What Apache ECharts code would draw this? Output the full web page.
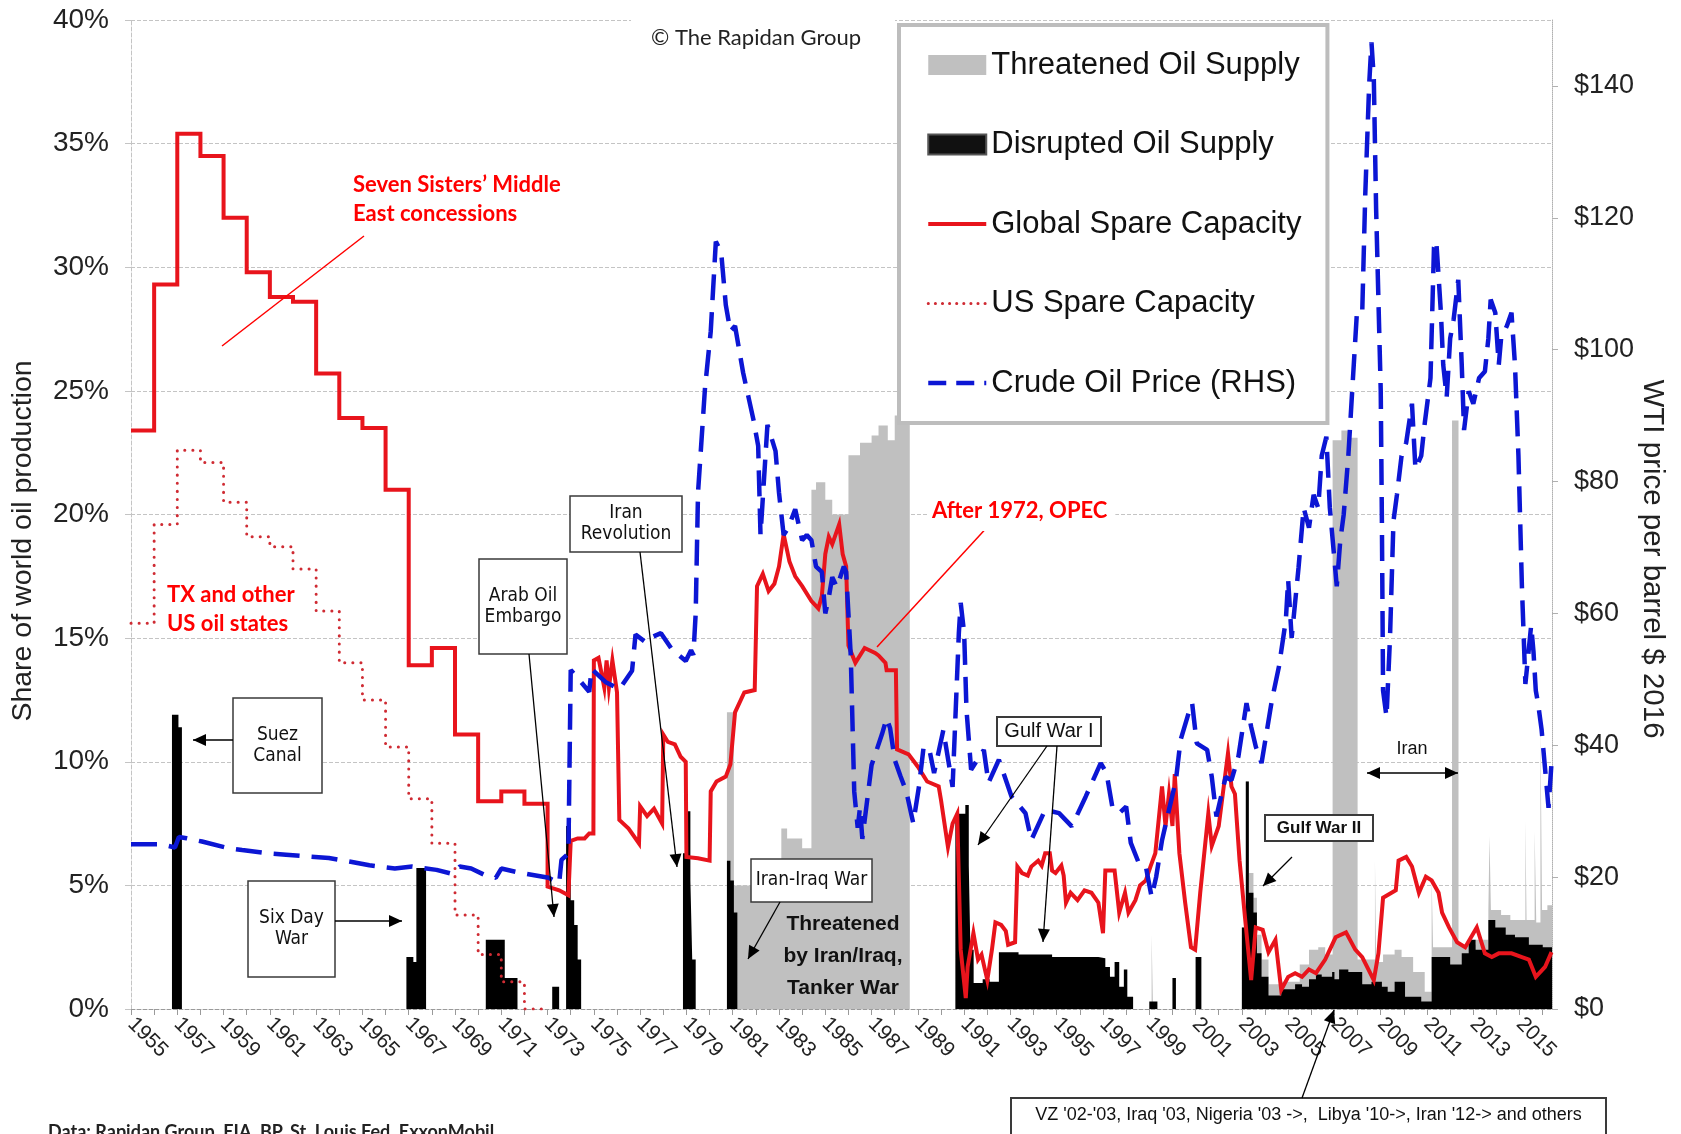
<!DOCTYPE html>
<html>
<head>
<meta charset="utf-8">
<title>Spare capacity, supply disruptions and oil price</title>
<script src="https://fastly.jsdelivr.net/npm/echarts@6/dist/echarts.min.js"></script>
<style>
  html, body { margin: 0; padding: 0; background: #fff; }
  #chart-container { width: 1681px; height: 1134px; }
</style>
</head>
<body>
<div id="chart-container"></div>
<script type="text/javascript">
  // annual values (step lines) 1955-1972
  var stepYears = [1955, 1956, 1957, 1958, 1959, 1960, 1961, 1962, 1963, 1964, 1965, 1966, 1967, 1968, 1969, 1970, 1971, 1972];
  var globalSpareAnnual = [23.4, 29.3, 35.4, 34.5, 32.0, 29.8, 28.8, 28.6, 25.7, 23.9, 23.5, 21.0, 13.9, 14.6, 11.1, 8.4, 8.8, 8.3];
  var usSpareAnnual = [15.6, 19.6, 22.6, 22.1, 20.5, 19.1, 18.7, 17.8, 16.1, 14.0, 12.5, 10.6, 8.5, 6.7, 3.8, 2.2, 1.1, 0.0];

  // global spare capacity after 1973, % of world production
  var globalSpareMonthly = [
    [1973.0, 4.95], [1973.5, 4.8], [1973.9, 4.6], [1974.0, 6.8], [1974.3, 6.9], [1974.6, 6.9], [1974.8, 7.1], [1974.98, 7.1],
    [1975.0, 14.1], [1975.2, 14.2], [1975.45, 13.0], [1975.55, 14.1], [1975.65, 13.0], [1975.8, 14.1], [1976.0, 12.8], [1976.1, 7.65],
    [1976.5, 7.3], [1976.95, 6.7], [1977.0, 8.2], [1977.3, 7.8], [1977.6, 8.1], [1977.95, 7.5], [1978.0, 11.1], [1978.2, 10.8],
    [1978.5, 10.7], [1978.75, 10.2], [1978.97, 10.0], [1979.0, 6.15], [1979.5, 6.1], [1980.0, 6.0], [1980.05, 8.8], [1980.3, 9.2],
    [1980.7, 9.4], [1980.9, 9.9], [1981.1, 12.0], [1981.5, 12.8], [1981.95, 12.9], [1982.05, 17.1], [1982.3, 17.6], [1982.55, 16.9],
    [1982.8, 17.2], [1983.0, 17.9], [1983.2, 19.2], [1983.45, 18.1], [1983.7, 17.5], [1984.0, 17.1], [1984.4, 16.5], [1984.7, 16.2],
    [1984.85, 16.7], [1985.0, 18.4], [1985.15, 19.1], [1985.3, 18.8], [1985.6, 19.6], [1985.75, 18.4], [1985.9, 17.9], [1986.0, 14.7],
    [1986.3, 14.0], [1986.7, 14.6], [1987.15, 14.4], [1987.3, 14.3], [1987.6, 14.0], [1987.65, 13.7], [1988.05, 13.7], [1988.1, 10.5],
    [1988.6, 10.3], [1989.0, 9.8], [1989.4, 9.2], [1989.9, 9.0], [1990.0, 8.45], [1990.3, 6.55], [1990.5, 7.5], [1990.7, 7.9],
    [1990.85, 2.4], [1991.07, 0.44], [1991.15, 1.7], [1991.4, 3.07], [1991.6, 2.0], [1991.75, 2.2], [1992.0, 1.17], [1992.2, 2.4],
    [1992.35, 3.5], [1992.6, 3.4], [1992.8, 3.15], [1992.9, 2.6], [1993.2, 2.7], [1993.3, 5.76], [1993.5, 5.5], [1993.75, 5.4],
    [1993.9, 5.76], [1994.2, 6.0], [1994.35, 5.8], [1994.5, 6.3], [1994.7, 6.3], [1994.8, 5.6], [1994.95, 5.5], [1995.2, 5.8],
    [1995.3, 5.4], [1995.4, 4.3], [1995.6, 4.7], [1995.9, 4.4], [1996.2, 4.8], [1996.5, 4.7], [1996.8, 4.3], [1997.0, 3.07],
    [1997.1, 5.6], [1997.5, 5.6], [1997.7, 3.9], [1997.95, 4.7], [1998.1, 3.9], [1998.4, 4.4], [1998.6, 5.0], [1998.85, 5.2],
    [1999.05, 5.76], [1999.26, 6.3], [1999.55, 9.0], [1999.7, 7.4], [1999.85, 8.7], [2000.0, 7.4], [2000.1, 9.5], [2000.3, 6.3],
    [2000.55, 4.3], [2000.8, 2.5], [2000.98, 2.4], [2001.2, 4.7], [2001.55, 7.9], [2001.7, 6.6], [2002.0, 7.4], [2002.4, 10.35],
    [2002.55, 9.0], [2002.7, 8.7], [2002.9, 6.0], [2003.2, 3.07], [2003.4, 1.17], [2003.6, 3.3], [2003.9, 3.2], [2004.15, 2.3],
    [2004.45, 2.8], [2004.7, 0.77], [2005.0, 1.3], [2005.3, 1.45], [2005.6, 1.3], [2005.9, 1.6], [2006.2, 1.45], [2006.6, 2.0],
    [2007.05, 2.9], [2007.5, 3.1], [2007.9, 2.4], [2008.2, 2.1], [2008.7, 1.17], [2008.9, 2.25], [2009.1, 4.5], [2009.65, 4.8],
    [2009.77, 6.0], [2010.1, 6.15], [2010.35, 5.76], [2010.65, 4.7], [2010.95, 5.35], [2011.2, 5.2], [2011.5, 4.7], [2011.65, 3.9],
    [2011.95, 3.3], [2012.3, 2.7], [2012.65, 2.5], [2013.15, 3.3], [2013.5, 2.25], [2013.8, 2.1], [2014.1, 2.25], [2014.65, 2.25],
    [2015.1, 2.1], [2015.4, 2.0], [2015.7, 1.3], [2016.1, 1.7], [2016.38, 2.3]
  ];

  // WTI crude, $ per barrel (2016 dollars)
  var crudePrice = [
    [1955.0, 25.0], [1956.3, 25.0], [1956.9, 24.5], [1957.07, 26.1], [1957.4, 25.9], [1958.07, 25.4], [1959.2, 24.4], [1959.8, 24.1],
    [1960.95, 23.6], [1961.7, 23.4], [1962.8, 23.1], [1963.55, 22.9], [1964.55, 22.3], [1965.3, 21.8], [1966.4, 21.3], [1967.15, 21.6],
    [1968.2, 21.1], [1968.87, 20.5], [1969.2, 21.6], [1969.7, 21.3], [1970.3, 20.3], [1970.76, 19.9], [1971.0, 21.3], [1971.9, 20.6],
    [1973.05, 19.9], [1973.5, 19.1], [1973.6, 22.6], [1973.9, 23.6], [1974.0, 51.4], [1974.35, 50.0], [1974.8, 48.1], [1974.9, 51.6],
    [1975.5, 49.6], [1976.1, 48.5], [1976.65, 51.3], [1976.8, 56.8], [1977.25, 55.6], [1977.5, 56.4], [1977.9, 57.0], [1978.4, 54.4],
    [1978.97, 52.8], [1979.2, 54.4], [1979.3, 53.7], [1979.4, 60.0], [1979.5, 78.3], [1979.8, 94.1], [1980.05, 102.8], [1980.27, 116.4],
    [1980.5, 114.8], [1980.7, 106.8], [1980.9, 102.8], [1981.1, 103.6], [1981.45, 96.5], [1981.7, 92.5], [1981.9, 89.3], [1982.1, 85.4],
    [1982.2, 71.9], [1982.5, 88.6], [1982.85, 84.6], [1983.0, 78.3], [1983.2, 71.9], [1983.4, 73.0], [1983.7, 75.8], [1984.0, 71.1],
    [1984.2, 71.9], [1984.4, 71.1], [1984.6, 67.1], [1984.85, 66.3], [1985.0, 60.0], [1985.15, 62.4], [1985.3, 65.5], [1985.5, 64.0],
    [1985.8, 67.1], [1985.9, 66.3], [1986.1, 53.6], [1986.25, 33.0], [1986.4, 27.5], [1986.5, 30.6], [1986.6, 25.8], [1986.8, 31.4],
    [1987.0, 37.0], [1987.45, 41.7], [1987.65, 44.1], [1987.8, 42.6], [1988.0, 37.8], [1988.25, 35.3], [1988.5, 33.0], [1988.8, 28.2],
    [1989.05, 33.8], [1989.25, 39.8], [1989.5, 39.3], [1989.7, 35.8], [1990.1, 42.3], [1990.5, 33.7], [1990.77, 57.0], [1990.85, 61.6],
    [1991.0, 57.0], [1991.1, 45.4], [1991.3, 36.3], [1991.85, 39.3], [1992.05, 34.3], [1992.5, 37.8], [1993.05, 32.2], [1993.65, 29.7],
    [1993.9, 25.6], [1994.5, 30.2], [1995.1, 29.7], [1995.65, 27.7], [1996.25, 32.2], [1996.9, 37.3], [1997.15, 35.8], [1997.4, 30.7],
    [1997.7, 29.7], [1998.0, 30.7], [1998.2, 25.2], [1998.55, 22.1], [1998.85, 21.6], [1999.1, 17.0], [1999.3, 20.1], [1999.55, 25.6],
    [1999.85, 30.2], [2000.15, 34.7], [2000.35, 40.8], [2000.7, 44.9], [2000.85, 46.4], [2001.05, 40.3], [2001.5, 39.3], [2001.7, 35.2],
    [2001.9, 29.2], [2002.3, 35.2], [2002.55, 34.7], [2002.85, 38.3], [2003.2, 46.4], [2003.4, 42.8], [2003.6, 39.8], [2003.85, 37.3],
    [2004.3, 46.9], [2004.6, 51.9], [2004.9, 59.0], [2005.0, 65.1], [2005.15, 56.3], [2005.45, 67.0], [2005.67, 76.0], [2005.9, 73.0],
    [2006.1, 78.0], [2006.3, 76.0], [2006.45, 83.9], [2006.65, 86.8], [2006.8, 76.0], [2006.95, 70.1], [2007.1, 64.1], [2007.25, 71.0],
    [2007.4, 75.0], [2007.6, 83.9], [2007.8, 95.7], [2007.97, 105.6], [2008.2, 105.6], [2008.33, 123.4], [2008.5, 140.2], [2008.6, 146.6],
    [2008.7, 141.2], [2008.8, 121.4], [2009.0, 93.7], [2009.05, 74.0], [2009.1, 48.3], [2009.25, 44.3], [2009.4, 56.3], [2009.55, 74.0],
    [2009.7, 78.0], [2009.9, 83.9], [2010.1, 85.9], [2010.35, 91.8], [2010.5, 81.9], [2010.75, 83.9], [2010.9, 88.8], [2011.15, 95.7],
    [2011.3, 115.5], [2011.4, 116.5], [2011.6, 105.6], [2011.7, 97.7], [2011.85, 92.8], [2012.0, 101.7], [2012.15, 104.6], [2012.35, 110.6],
    [2012.5, 97.7], [2012.6, 87.8], [2012.8, 93.7], [2013.0, 91.8], [2013.25, 95.7], [2013.5, 96.7], [2013.65, 101.7], [2013.75, 107.6],
    [2013.95, 105.6], [2014.1, 97.7], [2014.2, 101.7], [2014.45, 103.6], [2014.65, 105.6], [2014.8, 97.7], [2014.95, 83.9], [2015.1, 64.1],
    [2015.25, 49.3], [2015.5, 58.2], [2015.6, 54.2], [2015.7, 48.3], [2015.8, 46.3], [2015.95, 42.4], [2016.15, 34.5], [2016.25, 30.5],
    [2016.38, 37.4]
  ];

  // disrupted supply, % of world production (value holds until next point)
  var disruptedSupply = [
    [1955, 0], [1956.77, 11.9], [1957.05, 11.4], [1957.2, 0],
    [1966.9, 2.1], [1967.2, 1.9], [1967.33, 5.7], [1967.75, 0],
    [1970.33, 2.8], [1971.15, 1.25], [1971.7, 0],
    [1973.2, 0.9], [1973.5, 0],
    [1973.8, 7.4], [1974.0, 4.4], [1974.15, 3.4], [1974.3, 2.0], [1974.45, 0],
    [1978.85, 6.3], [1978.96, 8.0], [1979.17, 5.2], [1979.25, 2.0], [1979.4, 0],
    [1980.75, 6.0], [1980.9, 5.2], [1981.05, 3.9], [1981.2, 0],
    [1990.62, 7.9], [1991.05, 8.25], [1991.2, 5.8], [1991.27, 2.4], [1991.41, 1.05], [1991.8, 1.2], [1992.1, 1.1], [1992.5, 2.3],
    [1993.35, 2.2], [1994.8, 2.1], [1996.8, 2.05], [1997.1, 1.7], [1997.3, 1.3], [1997.5, 1.9], [1997.7, 0.9], [1997.9, 1.6],
    [1998.05, 0.5], [1998.3, 0],
    [1999.0, 0.3], [1999.35, 0], [2000.0, 1.25], [2000.15, 0], [2001.0, 2.1], [2001.25, 0],
    [2003.0, 3.3], [2003.17, 9.2], [2003.3, 4.7], [2003.5, 3.9], [2003.65, 2.25], [2003.85, 1.3], [2004.15, 0.55], [2004.7, 0.8],
    [2005.3, 1.0], [2005.6, 0.9], [2005.9, 1.2], [2006.2, 1.4], [2006.45, 1.3], [2006.9, 1.5], [2007.0, 1.2], [2007.2, 1.6],
    [2007.6, 1.5], [2008.2, 1.0], [2008.6, 1.1], [2009.05, 0.9], [2009.3, 0.7], [2009.6, 1.1], [2010.05, 0.5], [2010.75, 0.3],
    [2011.2, 2.1], [2012.0, 1.8], [2012.5, 2.25], [2012.8, 2.8], [2013.1, 2.4], [2013.65, 3.6], [2013.95, 3.3], [2014.4, 3.0],
    [2014.8, 2.9], [2015.4, 2.6], [2016.0, 2.5], [2016.4, 0]
  ];

  // threatened supply, % of world production
  var threatenedSupply = [
    [1955, 0], [1980.75, 12.0], [1981.05, 5.0], [1981.8, 6.0], [1983.1, 7.3], [1983.35, 6.9], [1984.0, 6.5],
    [1984.4, 21.0], [1984.6, 21.3], [1985.0, 20.6], [1985.3, 20.0], [1986.0, 22.4], [1986.5, 22.9], [1987.0, 23.2],
    [1987.3, 23.6], [1987.7, 23.0], [1988.0, 24.0], [1988.65, 0],
    [1999.1, 3.0], [1999.16, 0],
    [2003.0, 3.3], [2003.17, 9.2], [2003.3, 5.5], [2003.5, 4.5], [2003.65, 3.0], [2003.85, 2.0], [2004.15, 1.0], [2004.7, 1.1],
    [2005.5, 1.8], [2005.9, 2.4], [2006.3, 2.5], [2006.6, 2.2], [2006.92, 23.0], [2007.3, 23.4], [2007.7, 23.1], [2008.0, 2.0],
    [2008.75, 6.0], [2008.8, 1.9], [2009.1, 2.2], [2009.6, 2.4], [2009.9, 2.1], [2010.4, 1.5], [2010.9, 0.7], [2011.2, 5.3],
    [2011.26, 2.5], [2012.08, 23.8], [2012.36, 2.6], [2013.1, 2.8], [2013.65, 4.0], [2013.7, 7.0], [2013.76, 4.0], [2014.2, 3.8],
    [2014.6, 3.6], [2015.25, 7.6], [2015.3, 3.6], [2015.65, 7.2], [2015.72, 3.5], [2015.9, 11.5], [2015.97, 4.0], [2016.2, 4.2],
    [2016.4, 0]
  ];

  var yearLabels = [1955, 1957, 1959, 1961, 1963, 1965, 1967, 1969, 1971, 1973, 1975, 1977, 1979, 1981, 1983, 1985,
    1987, 1989, 1991, 1993, 1995, 1997, 1999, 2001, 2003, 2005, 2007, 2009, 2011, 2013, 2015];

  function annualSteps(years, values, endYear) {
    var pts = [];
    for (var i = 0; i < years.length; i++) {
      var next = i + 1 < years.length ? years[i + 1] : endYear;
      pts.push([years[i], values[i]], [next, values[i]]);
    }
    return pts;
  }
  var globalSpareLine = annualSteps(stepYears, globalSpareAnnual, 1973).concat(globalSpareMonthly);
  var usSpareLine = annualSteps(stepYears, usSpareAnnual, 1973);

  var NARROW = "'Liberation Sans Narrow', 'Liberation Sans', Arial, sans-serif";
  var ARIAL = "'Liberation Sans', Arial, sans-serif";
  var BOXFONT = "'DejaVu Sans Condensed', 'DejaVu Sans', sans-serif";
  var RED = '#ff0000';
  var GLOBAL_RED = '#e8141c', US_RED = '#cf2b33', PRICE_BLUE = '#0c16d4';

  // annotation helpers (pixel positions)
  function arrow(x1, y1, x2, y2, color, both) {
    color = color || '#000';
    var ang = Math.atan2(y2 - y1, x2 - x1), L = 13, W = 6;
    function head(xt, yt, a) {
      var bx = xt - L * Math.cos(a), by = yt - L * Math.sin(a);
      var px = -Math.sin(a) * W, py = Math.cos(a) * W;
      return { type: 'polygon', z: 100, shape: { points: [[xt, yt], [bx + px, by + py], [bx - px, by - py]] }, style: { fill: color } };
    }
    var out = [
      { type: 'line', z: 100, shape: { x1: x1, y1: y1, x2: x2, y2: y2 }, style: { stroke: color, lineWidth: 1.3 } },
      head(x2, y2, ang)
    ];
    if (both) out.push(head(x1, y1, ang + Math.PI));
    return out;
  }
  function box(x, y, w, h, text, font, lh, lw, ty) {
    return [
      { type: 'rect', z: 100, shape: { x: x, y: y, width: w, height: h }, style: { fill: '#fff', stroke: '#3a3a3a', lineWidth: lw || 1.5 } },
      { type: 'text', z: 101, x: x + w / 2, y: ty || (y + h / 2),
        style: { text: text, font: font, fill: '#111', align: 'center', verticalAlign: 'middle', textAlign: 'center', textVerticalAlign: 'middle', lineHeight: lh || 21 } }
    ];
  }
  function label(x, y, text, font, color, align, lh, extra) {
    var st = { text: text, font: font, fill: color, align: align || 'left', verticalAlign: 'middle',
      textAlign: align || 'left', textVerticalAlign: 'middle', lineHeight: lh || 28 };
    for (var k in extra || {}) st[k] = extra[k];
    return { type: 'text', z: 101, x: x, y: y, style: st };
  }

  var graphics = [].concat(
    [{ type: 'rect', z: 99, shape: { x: 631, y: 10, width: 264, height: 46 }, style: { fill: '#fff' } }],
    [label(651, 38, '\u00a9 The Rapidan Group', "22px Lato, sans-serif", '#222')],
    [label(353, 199, 'Seven Sisters\u2019 Middle\nEast concessions', "bold 22px Lato, sans-serif", RED, 'left', 29)],
    [{ type: 'line', z: 100, shape: { x1: 364, y1: 236, x2: 222, y2: 346 }, style: { stroke: RED, lineWidth: 1.5 } }],
    [label(167, 609, 'TX and other\nUS oil states', "bold 22px Lato, sans-serif", RED, 'left', 29)],
    [label(928, 511, 'After 1972, OPEC', "bold 22px Lato, sans-serif", RED, 'left', 28, { backgroundColor: '#fff', padding: [6, 8, 6, 4] })],
    [{ type: 'line', z: 100, shape: { x1: 991, y1: 523, x2: 877, y2: 647 }, style: { stroke: RED, lineWidth: 1.5 } }],
    [label(843, 956, 'Threatened\nby Iran/Iraq,\nTanker War', "bold 21px " + ARIAL, '#111', 'center', 32)],
    box(233, 698, 89, 95, 'Suez\nCanal', "19px " + BOXFONT),
    arrow(233, 740, 193, 740),
    box(248, 881, 87, 96, 'Six Day\nWar', "19px " + BOXFONT),
    arrow(335, 921, 402, 921),
    box(479, 559, 88, 95, 'Arab Oil\nEmbargo', "19px " + BOXFONT),
    arrow(529, 654, 554, 917),
    box(570, 496, 112, 56, 'Iran\nRevolution', "19px " + BOXFONT),
    arrow(640, 552, 677, 867),
    box(751, 859, 121, 43, 'Iran-Iraq War', "19px " + BOXFONT),
    arrow(780, 902, 748, 959),
    box(997, 717, 104, 29, 'Gulf War I', "20px " + NARROW, 22, 2),
    arrow(1047, 746, 978, 845),
    arrow(1057, 746, 1043, 942),
    box(1265, 815, 108, 26, 'Gulf War II', "bold 17px " + ARIAL, 20, 2),
    arrow(1292, 857, 1263, 886),
    [label(1412, 749, 'Iran', "18px " + ARIAL, '#111', 'center')],
    arrow(1367, 773, 1458, 773, '#000', true),
    box(1011, 1098, 595, 50, "VZ '02-'03, Iraq '03, Nigeria '03 ->,  Libya '10->, Iran '12-> and others", "18px " + NARROW, 22, 2, 1115),
    arrow(1302, 1098, 1334, 1010),
    [label(48, 1132, 'Data: Rapidan Group, EIA, BP, St. Louis Fed, ExxonMobil', "bold 18px Lato, sans-serif", '#222')],
    [{ type: 'text', z: 101, x: 23, y: 541, rotation: Math.PI / 2,
       style: { text: 'Share of world oil production', font: "28.5px " + ARIAL, fill: '#222', align: 'center', verticalAlign: 'middle', textAlign: 'center', textVerticalAlign: 'middle' } }],
    [{ type: 'text', z: 101, x: 1652, y: 559, rotation: -Math.PI / 2,
       style: { text: 'WTI price per barrel $ 2016', font: "29.5px " + ARIAL, fill: '#222', align: 'center', verticalAlign: 'middle', textAlign: 'center', textVerticalAlign: 'middle' } }]
  );

  var dom = document.getElementById('chart-container');
  var myChart = echarts.init(dom, null, { renderer: 'canvas' });

  var noMarker = { opacity: 0, color: 'rgba(0,0,0,0)', borderWidth: 0 };

  var option = {
    animation: false,
    backgroundColor: '#fff',
    grid: { left: 131, right: 129, top: 20, bottom: 125, containLabel: false, outerBoundsMode: 'none' },
    legend: {
      orient: 'vertical',
      left: 899,
      top: 25,
      padding: [20, 26, 20, 27],
      itemWidth: 58,
      itemHeight: 20,
      itemGap: 39.5,
      selectedMode: false,
      backgroundColor: '#fff',
      borderColor: '#bdbdbd',
      borderWidth: 4,
      textStyle: { fontFamily: NARROW, fontSize: 31, color: '#111', lineHeight: 40 },
      data: [
        { name: 'Threatened Oil Supply', icon: 'rect', itemStyle: { color: '#c0c0c0' } },
        { name: 'Disrupted Oil Supply', icon: 'rect', itemStyle: { color: '#111', borderColor: '#555', borderWidth: 2 } },
        { name: 'Global Spare Capacity', itemStyle: noMarker, lineStyle: { color: GLOBAL_RED, width: 4 } },
        { name: 'US Spare Capacity', itemStyle: noMarker, lineStyle: { color: US_RED, width: 3, type: [0.1, 7], cap: 'round' } },
        { name: 'Crude Oil Price (RHS)', itemStyle: noMarker, lineStyle: { color: PRICE_BLUE, width: 4.5, type: [18, 10] } }
      ]
    },
    xAxis: {
      type: 'value',
      min: 1955,
      max: 2016.4,
      interval: 1,
      axisLine: { show: true, onZero: false, lineStyle: { color: '#9a9a9a', type: 'dashed', width: 1 } },
      axisTick: { show: true, length: 6, lineStyle: { color: '#9a9a9a' } },
      splitLine: { show: false },
      axisLabel: {
        rotate: -45,
        margin: 12,
        fontFamily: ARIAL,
        fontSize: 21,
        color: '#222',
        showMaxLabel: false,
        formatter: function (v) { return yearLabels.indexOf(v) >= 0 ? String(v) : ''; }
      }
    },
    yAxis: [
      {
        type: 'value',
        min: 0,
        max: 40,
        interval: 5,
        axisLine: { show: true, lineStyle: { color: '#c4c4c4', type: 'dashed' } },
        axisTick: { show: true, length: 6, lineStyle: { color: '#c4c4c4' } },
        splitLine: { show: true, lineStyle: { color: '#c4c4c4', type: 'dashed', width: 1 } },
        axisLabel: { margin: 22, fontFamily: NARROW, fontSize: 28, color: '#222', formatter: '{value}%' }
      },
      {
        type: 'value',
        position: 'right',
        min: 0,
        max: 150,
        interval: 20,
        axisLine: { show: true, lineStyle: { color: '#b0b0b0', type: 'dotted' } },
        axisTick: { show: true, length: 6, lineStyle: { color: '#b0b0b0' } },
        splitLine: { show: false },
        axisLabel: {
          margin: 22, fontFamily: NARROW, fontSize: 27, color: '#222', showMaxLabel: false,
          formatter: function (v) { return v > 140 ? '' : '$' + v; }
        }
      }
    ],
    series: [
      {
        name: 'Threatened Oil Supply',
        type: 'line',
        step: 'end',
        data: threatenedSupply,
        symbol: 'none',
        silent: true,
        z: 1,
        itemStyle: { color: '#c0c0c0' },
        lineStyle: { width: 0, color: '#c0c0c0' },
        areaStyle: { color: '#c0c0c0', opacity: 1 }
      },
      {
        name: 'Disrupted Oil Supply',
        type: 'line',
        step: 'end',
        data: disruptedSupply,
        symbol: 'none',
        silent: true,
        z: 2,
        itemStyle: { color: '#000' },
        lineStyle: { width: 0, color: '#000' },
        areaStyle: { color: '#000', opacity: 1 }
      },
      {
        name: 'US Spare Capacity',
        type: 'line',
        data: usSpareLine,
        symbol: 'none',
        silent: true,
        z: 4,
        itemStyle: { color: US_RED },
        lineStyle: { color: US_RED, width: 3, type: [0.1, 8], cap: 'round' }
      },
      {
        name: 'Global Spare Capacity',
        type: 'line',
        data: globalSpareLine,
        symbol: 'none',
        silent: true,
        z: 4,
        itemStyle: { color: GLOBAL_RED },
        lineStyle: { color: GLOBAL_RED, width: 4, join: 'miter' }
      },
      {
        name: 'Crude Oil Price (RHS)',
        type: 'line',
        yAxisIndex: 1,
        data: crudePrice,
        symbol: 'none',
        silent: true,
        z: 5,
        itemStyle: { color: PRICE_BLUE },
        lineStyle: { color: PRICE_BLUE, width: 4.5, type: [26, 12] }
      }
    ],
    graphic: graphics
  };

  if (option && typeof option === 'object') {
    myChart.setOption(option);
  }
  window.addEventListener('resize', myChart.resize);
</script>
</body>
</html>
